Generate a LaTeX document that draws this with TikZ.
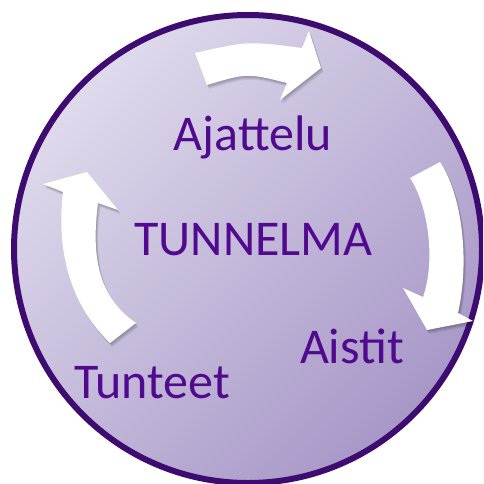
\documentclass[tikz,border=0pt]{standalone}
\usepackage{fontspec}
\setmainfont{Carlito}
\definecolor{ringpurple}{HTML}{3E0C70}
\definecolor{textpurple}{HTML}{510A8E}
\definecolor{fillhi}{HTML}{DFDAEC}
\definecolor{filllo}{HTML}{A797C7}

% outlines of the three curved block arrows
\newcommand\toparrowshape{(195,53) .. controls (248,41) .. (302,48) -- (309,31) -- (321,68) -- (280,100) -- (287,83) .. controls (247,73) .. (207,85) -- cycle}
\newcommand\rightarrowshape{(440,162) .. controls (462,195) and (470,260) .. (458,313) -- (473,321) -- (427,330) -- (403,288) -- (423,297) .. controls (436,260) and (428,205) .. (410,178) -- cycle}
\newcommand\leftarrowshape{(136,323) .. controls (95,295) and (92,250) .. (98,203) -- (118,210) -- (87,172) -- (43,184) -- (63,192) .. controls (56,250) and (70,305) .. (110,343) -- cycle}

\begin{document}
\begin{tikzpicture}[x=1pt,y=-1pt,
  labeltext/.style={font=\fontsize{50}{50}\selectfont, text=textpurple, inner sep=0pt, anchor=base},
  arrowbody/.style={fill=white},
  arrowghost/.style={fill=black, opacity=0.07}]
\useasboundingbox (0,0) rectangle (483,484);
\clip (0,0) rectangle (483,484);

% disc with diagonal gradient and dark rim
\shade[top color=fillhi, bottom color=filllo, shading angle=45] (248,249) circle[radius=234];
\draw[ringpurple, line width=6] (248,249) circle[radius=234];

% soft drop shadows under the arrows
\foreach \d in {1,2,3,4}{
  \fill[arrowghost, shift={(\d*0.6,\d)}] \toparrowshape;
  \fill[arrowghost, shift={(\d*0.6,\d)}] \rightarrowshape;
  \fill[arrowghost, shift={(\d*0.6,\d)}] \leftarrowshape;
}
\fill[arrowbody] \toparrowshape;
\fill[arrowbody] \rightarrowshape;
\fill[arrowbody] \leftarrowshape;

\node[labeltext] (ajattelu) at (253,150) {Ajattelu};
\node[labeltext] (tunnelma) at (253.5,255) {TUNNELMA};
\node[labeltext] (aistit) at (352,363) {Aistit};
\node[labeltext] (tunteet) at (152,398) {Tunteet};
\end{tikzpicture}
\end{document}
